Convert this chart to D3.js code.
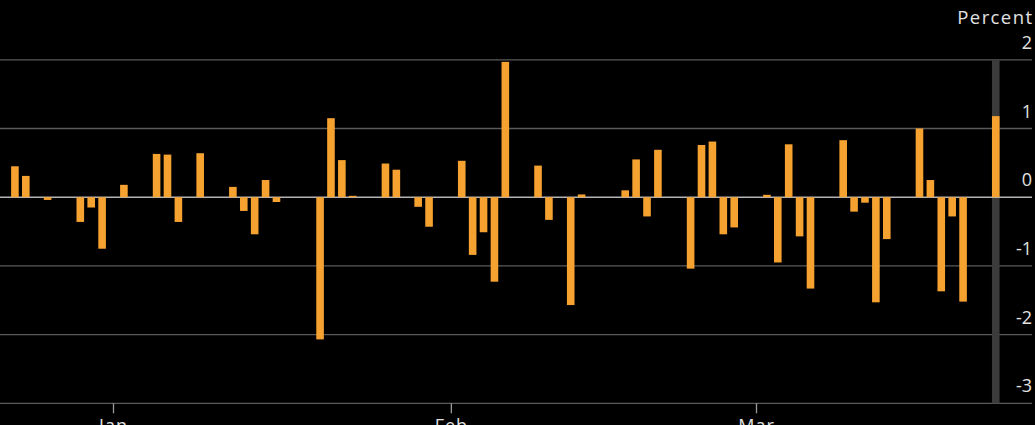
<!DOCTYPE html>
<html>
<head>
<meta charset="utf-8">
<script src="https://cdn.jsdelivr.net/npm/d3@7"></script>
<style>
  html, body { margin: 0; padding: 0; background: #000; }
  svg { display: block; }
  text { font-family: "Open Sans", sans-serif; fill: #e2e2e2; }
</style>
</head>
<body>
<svg id="chart" width="1035" height="425"></svg>
<script>
(function() {
  // daily change, percent
  var dates = [
    "2014-12-23", "2014-12-24", "2014-12-26", "2014-12-29", "2014-12-30", "2014-12-31",
    "2015-01-02", "2015-01-05", "2015-01-06", "2015-01-07", "2015-01-08", "2015-01-09",
    "2015-01-12", "2015-01-13", "2015-01-14", "2015-01-15", "2015-01-16",
    "2015-01-20", "2015-01-21", "2015-01-22", "2015-01-23",
    "2015-01-26", "2015-01-27", "2015-01-28", "2015-01-29", "2015-01-30",
    "2015-02-02", "2015-02-03", "2015-02-04", "2015-02-05", "2015-02-06",
    "2015-02-09", "2015-02-10", "2015-02-11", "2015-02-12", "2015-02-13",
    "2015-02-17", "2015-02-18", "2015-02-19", "2015-02-20",
    "2015-02-23", "2015-02-24", "2015-02-25", "2015-02-26", "2015-02-27",
    "2015-03-02", "2015-03-03", "2015-03-04", "2015-03-05", "2015-03-06",
    "2015-03-09", "2015-03-10", "2015-03-11", "2015-03-12", "2015-03-13",
    "2015-03-16", "2015-03-17", "2015-03-18", "2015-03-19", "2015-03-20",
    "2015-03-23"
  ];
  var values = [
    0.45, 0.31, -0.04, -0.36, -0.15, -0.75,
    0.18, 0.63, 0.62, -0.36, 0, 0.64,
    0.15, -0.20, -0.54, 0.25, -0.07,
    -2.07, 1.15, 0.54, 0.02,
    0.49, 0.40, 0, -0.14, -0.43,
    0.53, -0.84, -0.51, -1.23, 1.97,
    0.46, -0.33, 0, -1.57, 0.04,
    0.10, 0.55, -0.28, 0.69,
    -1.04, 0.76, 0.81, -0.54, -0.44,
    0.035, -0.95, 0.77, -0.57, -1.33,
    0.83, -0.21, -0.08, -1.53, -0.61,
    1.00, 0.25, -1.37, -0.28, -1.52,
    1.18
  ];
  var yTicks = [-3, -2, -1, 0, 1, 2];
  var monthTicks = ["2015-01-01", "2015-02-01", "2015-03-01"];
  var unitLabel = "Percent";

  var parse = d3.utcParse("%Y-%m-%d");
  var data = dates.map(function(d, i) { return { date: parse(d), value: values[i] }; });

  var svg = d3.select("#chart"),
    plotRight = 1032;

  var x = d3.scaleUtc()
      .domain([parse("2015-01-01"), parse("2015-03-01")])
      .range([113, 756]);

  var y = d3.scaleLinear()
      .domain([-3, 2])
      .range([403.3, 59.8]);

  var barW = 7.6;

  // gridlines (zero drawn later)
  svg.append("g")
    .selectAll("line")
    .data(yTicks.filter(function(d) { return d !== 0; }))
    .enter().append("line")
      .attr("x1", 0)
      .attr("x2", plotRight)
      .attr("y1", function(d) { return y(d); })
      .attr("y2", function(d) { return y(d); })
      .attr("stroke", "#5a5a5a")
      .attr("stroke-width", 1.3);

  // latest-day highlight band
  var last = data[data.length - 1];
  svg.append("rect")
      .attr("x", x(last.date) - 3.8)
      .attr("width", 7.6)
      .attr("y", y(2))
      .attr("height", y(-3) - y(2))
      .attr("fill", "#3b3b3b");

  svg.append("line")
      .attr("x1", 0)
      .attr("x2", plotRight)
      .attr("y1", y(0))
      .attr("y2", y(0))
      .attr("stroke", "#b4b4b4")
      .attr("stroke-width", 1.5);

  svg.append("g")
    .selectAll("rect")
    .data(data)
    .enter().append("rect")
      .attr("x", function(d) { return x(d.date) - barW / 2; })
      .attr("width", barW)
      .attr("y", function(d) { return y(Math.max(0, d.value)); })
      .attr("height", function(d) { return Math.abs(y(d.value) - y(0)); })
      .attr("fill", "#f6a230");

  // right-hand labels sit above their gridlines
  svg.append("g")
    .selectAll("text")
    .data(yTicks)
    .enter().append("text")
      .attr("x", plotRight)
      .attr("y", function(d) { return y(d) - 11; })
      .attr("text-anchor", "end")
      .attr("font-size", "18px")
      .text(function(d) { return d; });

  svg.append("text")
      .attr("x", plotRight + 1.4)
      .attr("y", 24)
      .attr("text-anchor", "end")
      .attr("font-size", "18.5px")
      .attr("letter-spacing", "1.4px")
      .text(unitLabel);

  var xAxis = svg.append("g")
      .attr("transform", "translate(0," + y(-3) + ")")
      .call(d3.axisBottom(x)
        .tickValues(monthTicks.map(parse))
        .tickSize(10)
        .tickPadding(6)
        .tickFormat(d3.utcFormat("%b")));
  xAxis.select(".domain").remove();
  xAxis.selectAll("line").attr("stroke", "#9a9a9a").attr("stroke-width", 1.3);
  xAxis.selectAll("text")
      .attr("font-size", "18px")
      .attr("fill", "#e2e2e2")
      .attr("letter-spacing", "1px")
      .style("font-family", "'Open Sans', sans-serif");
})();
</script>
</body>
</html>
